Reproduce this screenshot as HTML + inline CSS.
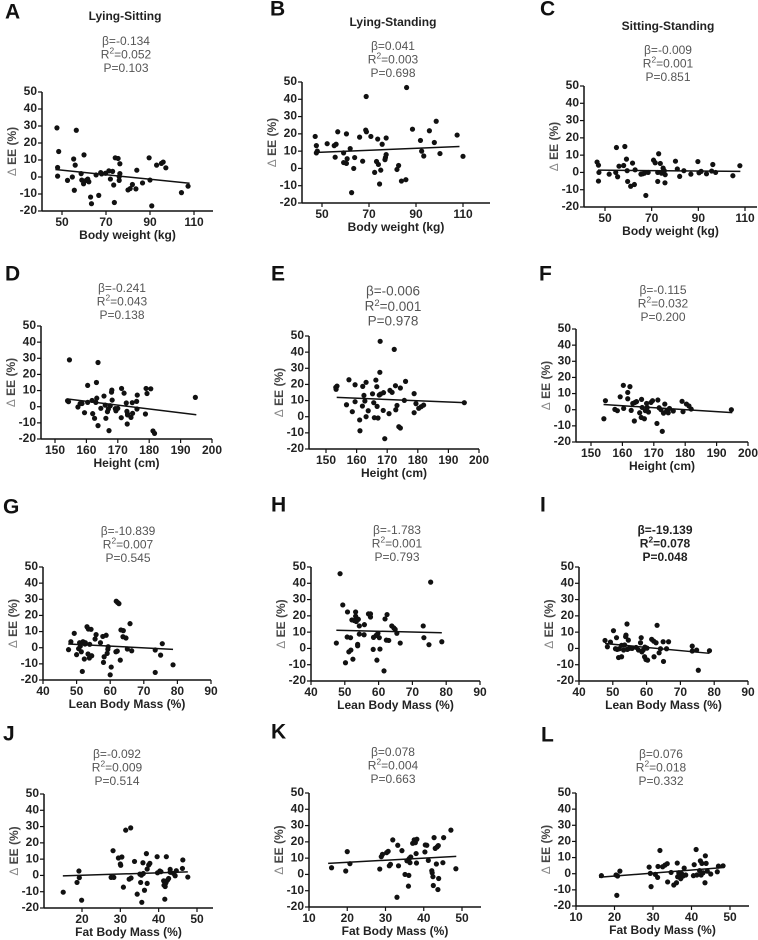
<!DOCTYPE html>
<html><head><meta charset="utf-8"><style>
body{margin:0;background:#fff;}
svg{display:block;font-family:"Liberation Sans",Arial,sans-serif;}
</style></head><body>
<svg id="fig" width="758" height="940" viewBox="0 0 758 940"></svg>
<script>
// ---- data (x values, delta EE values) ----
const aX=[47.7,56.5,48.5,48,48,55.3,56,60,52.5,54.7,55.6,58.7,59,59.8,61,61.7,62.2,63,63.4,65.5,66.7,67.6,68,69.8,71.3,72,73,73.5,73.8,74.2,75.5,76,76,76.3,76.3,80,81,82,84,83.6,86.6,89.6,90,90.8,93,95.2,96,97.2,104.3,107.3];
const aY=[28.9,27.5,15,5.6,0.5,10.6,7,13,-2,0,-7.8,2,-1.8,-4,-2,-1.2,-2.8,-11.8,-15.7,1.2,-10.8,2.6,1.8,2.2,3.6,-1.2,3.3,-4.7,-15,11.3,10.9,0.2,-2,7.8,2,-7.6,-6.8,-4.4,4,-7,-3.5,11.3,-1.8,-17,7,8,8.8,5.4,-9.2,-5.4];
const bX=[47.1,47.6,47.6,48,52.2,55.2,56,55.6,56.7,59.2,60.4,59.2,60.4,60.7,62,63.5,63.9,62.6,66,67.3,68.6,68.9,68.8,70.8,72.4,73.2,73.7,74,74.5,75,75.6,77.3,77,76.8,77.3,81.9,82.6,83.8,85.7,86,88.5,91.9,92.4,93.3,95.7,97.8,98.6,100.2,107.5,110];
const bY=[18.5,13.2,9,10,14.3,13.2,14,6.5,21.2,9,20,3.4,2.9,5.6,11.5,0,6.3,-14,18.1,4.2,22.2,21.2,41.6,18.5,-2.3,4,17,2.3,-9,-1,14,17.6,6.3,5.1,8,-0.6,1.7,-7.3,-6.5,46.8,22.7,16.2,10,7.2,21.8,15,27.3,8.6,19.3,7];
const cX=[46.6,47.2,47.4,47.2,51.8,54.6,54.9,55.4,56,58.5,58,59.2,59.5,59.7,61,61.8,62.6,62.9,65.4,66.1,66.9,67.5,68.5,70.8,71.5,72.6,72.6,73,73.7,74.2,74.9,75.4,75.7,75.8,80.2,81,82,83.8,86.8,89.8,90.3,91.2,93.5,95.7,96.2,97.4,104.8,107.8];
const cY=[6,4.2,0,-5,-1,0,14.4,-2.5,3.6,15,4,7.7,1,-5.2,-8,5.4,-7,1.5,-1,-0.8,-0.4,-13.3,0,7.1,5.6,0,-5.2,10.8,5.2,-0.4,2.5,1,-6,-1.3,6.5,2,-2.3,1,-1,6.3,-0.2,0.6,-0.8,0.8,4.6,0,-1.9,3.9];
const dX=[154.6,154,154.3,157.3,158,158.6,159.4,160.4,160.4,161.8,162,162.6,163,163.2,163.3,163.7,163.7,164.6,165.6,166,166.2,166.7,167,167.2,167.6,168,168.1,168.2,169.2,169.4,170,171.1,171.2,172,172.7,172.9,173.1,173.1,173,174.2,174.7,174.6,176,176.2,176.1,178.8,179,179.3,180.5,181.2,181.7,194.7];
const dY=[29,3.7,3.1,-0.2,1.9,2,-3.7,13.2,2.7,3.9,-4.3,-7.2,2.7,15,5.3,27.4,-11.7,-1,6.6,1,-7.2,-3.1,-1.4,-14.8,0.6,9,10.3,4.1,-1.2,-2.5,-1,-6.8,11.3,8.4,2.3,-2.9,-4.5,-5.1,-10.7,-6.6,-4.1,2.5,3.3,7.2,-1.4,-4.5,11.3,8.2,11.1,-15,-16.5,5.8];
const eX=[153.2,153.6,153.3,156.7,157.5,158.6,159.5,159.5,161,161.1,161.9,162,162.4,162.7,163.1,163.1,163.8,165.2,165.6,165.8,166.3,166.6,166.7,167,167.6,167.7,167.4,167.8,168.7,168.8,169.2,170.6,170.9,171.6,172.3,172.7,172.8,173.2,173.8,174.3,174.3,175.6,176,178.8,178.8,179.4,180.3,181.1,181.9,195.2];
const eY=[18.2,19,17,7.4,22.9,3.1,19.8,9.3,-2,-8.7,6.6,18.8,13.2,9.7,21.3,0,3.7,14.2,8.7,-0.6,22.7,18.6,6.4,-0.8,27.5,46.7,13.4,14,3.9,14.9,-13.6,1.9,16.3,15.1,41.7,19.2,4.3,7,-6.2,-7,17.8,10.1,21.9,14.3,2.5,8.1,5.2,6.2,7.2,8.7];
const fX=[154.1,154.6,157.6,158.4,159.3,160.3,160.4,161.7,162.4,161.7,162.8,163.3,163.8,164,164.5,165.5,166,166.1,166.3,167,167.3,167.7,167.9,168.3,169.1,169.6,171,171.3,171.7,172.3,172.7,173.1,173.5,174.1,174.6,175,176.2,179,179.3,180.4,181.2,181.9,194.7];
const fY=[-5.6,5.6,0.2,-0.6,8,15.1,0.8,10.7,14.3,6.8,-0.4,3.9,-7,4.5,5,-1.9,-4.8,6.4,1.4,-5.6,-0.6,3.9,1.4,-1.4,4.5,5.6,-8.5,6,1.2,0,-13.4,-2.1,3.5,-0.6,-1.9,0.8,-0.8,5.2,-1.2,3.5,2.3,0.4,0];
const gX=[47.6,48.3,49.3,50,50.6,50.9,51.1,51.4,51.7,51.9,52.3,52.5,52.6,53.1,53.4,53.5,53.8,53.9,54.3,54.5,55.5,55.8,57.1,57.8,58,58.2,58.8,59.1,59.3,59.4,60,60.3,61.7,61.8,62.2,62.6,62.1,63,63.2,63.9,63.8,64.7,65.1,65.9,66.4,73.4,73.4,75,75.5,78.7];
const gY=[-1.2,3.7,8.9,-4.3,-0.6,3.1,1,-2.5,-14.7,3.7,-7,2.3,3.1,13,-3.9,11.6,-6.4,2.1,11.4,-5,5.4,8.1,3.1,7,-9.1,-5.6,7.7,-3.5,-1,0.6,-16.8,-12,-2.5,28.8,28,27.3,-2.1,-7.7,11,10.6,6.8,6,-0.8,14.9,-1.9,-1.4,-15.3,-4.6,2.5,-10.6];
const hX=[47.5,48.6,49.4,50.8,50.7,50.2,51.2,51.7,51.8,52.1,52.4,52.8,53.2,53.2,53.4,53.6,54,53.8,53.8,54.3,54.3,55.8,55.7,57,57.6,57.6,58.4,58.5,59.3,59.5,59.8,60.2,60.4,61.6,61.9,62.5,62.3,63,63.9,64.5,64.9,65.4,66.4,73.2,73.4,74.9,75.4,78.7];
const hY=[3.3,45.9,26.7,22.4,7,-8.8,-2.1,6.6,-1,17.5,-6.6,17.1,22.4,19.8,16.5,18.1,17.9,2.5,1.6,13.8,8.8,14.6,8.4,21.2,19.3,21.2,-0.6,6.8,8,-7.2,9.3,6.6,-0.4,-13.8,18.1,20.8,5.1,4.9,13.8,12.6,11.7,9.3,3.3,13.8,6.6,2.3,40.7,4.1];
const iX=[47.7,48.4,49.3,50.2,50.8,51.1,51.3,51.7,51.9,52.6,52.6,53.2,53.5,53.8,53.9,54.2,54.3,54.6,54.9,55.7,56.9,57.6,58.2,58.4,58.6,59,59.5,59.4,59.8,60.3,60.1,61.5,62.1,62.2,62.8,63.1,63.7,64.1,64.9,65,65.9,66.5,73.5,73.5,74.8,75.3,78.6];
const iY=[4.9,1,3.9,10.9,-0.2,6.6,-0.6,-5.6,-0.2,-5.1,1.9,-1,2.1,7.2,8.2,15,-0.6,5.1,0,0,0.6,-1,3.5,6.6,-2.1,-1,0.8,-5.1,-6.8,-7.2,0.2,5.6,4.5,-5.1,3.5,14.2,-2.7,-0.2,4.1,-8,-0.2,4.1,1.4,-1.6,-1,-13.4,-1.4];
const jX=[15.1,18.7,19.2,19.3,19.9,27.6,28.1,28.3,29.5,30.1,30,30.4,30.8,31.4,32.3,32.7,32.8,33.7,34.4,35.1,35.3,35.5,35.6,35.9,36,36.3,36.8,37,37,37.4,37.7,39.6,39.7,40.3,40.6,41.3,41.4,41.6,41.7,41.9,42,42.3,42.6,43,43,43.1,43.9,44.3,44.6,46.3,46.2,47.6];
const jY=[-10.3,-4.3,2.7,-1.4,-15.2,-1.2,15.2,-1.2,10.7,6.2,7,11.3,-7.2,27.8,-2.3,29.2,-1.6,8.6,-11.5,0.8,-4.3,0.2,-16.5,7.8,1.2,-9.1,13.4,-4.9,3.9,6.4,7.4,11.5,1.6,2.7,2.3,-3.3,-6,-14.6,-6.8,-4.5,11.5,-2.9,-1.9,3.7,2.1,1.9,1.2,-0.2,2.9,9.5,4.3,-1];
const kX=[15.9,19.6,20,20.7,28.5,28.9,29.2,30.3,30.7,31,31.3,31.9,33.2,33.4,34.3,35.1,36.1,36,35.6,36.2,36.6,36.4,33,37.1,37.5,37.8,38,38.1,38.2,40.4,40.8,40.3,41.2,42.1,42.2,42.4,42.5,42.7,43,43.3,43.5,43.8,43.7,43.9,45.2,45,47.1,48.4];
const kY=[4.1,2.1,14,6.6,3.3,10.9,12.3,13.4,14.2,5.3,6.2,21.2,17.9,5.3,14.6,0,-0.6,-7.2,8.4,9.7,10.7,7.2,-14,19.1,21.2,19.5,12.8,7,21.6,18.1,17.9,13.8,8.6,2.3,1,-1.4,-6.8,22.6,16,6.4,16.9,17.7,-9.3,-2.5,22.6,7.2,27.2,3.5];
const lX=[16.6,20.4,20.8,20.6,21.4,29,29.3,29.5,30.6,31.2,31.3,31.8,32.5,33.1,33.7,33.8,34.7,35.4,36.1,36.3,36.4,36.7,36.9,37.2,37.5,37.8,38.1,38.5,40.5,40.7,41.2,41.4,42.1,42.3,42.5,42.7,43,43.5,43.6,43.8,44.1,45,46.7,47,48.2];
const lY=[-1.2,-0.8,-1.4,-13.4,1.6,4.1,0.2,-8,-0.4,-2.3,4.5,14.4,4.3,5.3,6.2,-5.1,0.8,-7,-5.6,6.6,-1.9,0.6,-1,-3.1,-0.2,-1.4,3.5,-0.8,-1.2,5.6,15,-0.8,1.9,8,-0.8,6.4,0.6,-5.6,11.1,6.4,1.6,-0.2,1.2,4.7,4.9];
// regression lines: [x start, x end, y start, y end]
const aFit=[47,108,4.4,-3.7], bFit=[47,108.5,9.2,12.7], cFit=[47,108,1.3,0.6];
const dFit=[154,195,4.8,-5], eFit=[153.5,195,12,8.7], fFit=[154,195,3.2,-1.8];
const gFit=[47.5,78.7,2.3,-1], hFit=[47.5,78.7,11.2,9.6], iFit=[47.7,78.6,3,-3];
const jFit=[15,47.6,-0.3,2.2], kFit=[15,48.5,6.8,11.1], lFit=[16,48,-2.2,3.8];
const yTicks=[-20,-10,0,10,20,30,40,50];
const xTicksBW=[50,70,90,110], xTicksH=[150,160,170,180,190,200], xTicksL=[40,50,60,70,80,90], xTicksF1=[20,30,40,50], xTicksF2=[10,20,30,40,50];
const stats={A:["-0.134","0.052","0.103"],B:["0.041","0.003","0.698"],C:["-0.009","0.001","0.851"],D:["-0.241","0.043","0.138"],E:["-0.006","0.001","0.978"],F:["-0.115","0.032","0.200"],G:["-10.839","0.007","0.545"],H:["-1.783","0.001","0.793"],I:["-19.139","0.078","0.048"],J:["-0.092","0.009","0.514"],K:["0.078","0.004","0.663"],L:["0.076","0.018","0.332"]};

// ---- layout ----
const panels=[
 {id:"A",xs:aX,ys:aY,fit:aFit,ticks:xTicksBW,xt:"Body weight (kg)",ax:42,x1v:50,x1p:62,x2v:110,x2p:194,end:213,y50:92,ym20:211,lx:5,ly:13,sc:126,sy:42,title:"Lying-Sitting",tx:125,ty:17},
 {id:"B",xs:bX,ys:bY,fit:bFit,ticks:xTicksBW,xt:"Body weight (kg)",ax:302,x1v:50,x1p:322,x2v:110,x2p:463,end:490,y50:82,ym20:203,lx:270,ly:10,sc:393,sy:47,title:"Lying-Standing",tx:393,ty:23},
 {id:"C",xs:cX,ys:cY,fit:cFit,ticks:xTicksBW,xt:"Body weight (kg)",ax:584,x1v:50,x1p:605,x2v:110,x2p:745,end:757,y50:86,ym20:207,lx:540,ly:10,sc:668,sy:51,title:"Sitting-Standing",tx:668,ty:27},
 {id:"D",xs:dX,ys:dY,fit:dFit,ticks:xTicksH,xt:"Height (cm)",ax:41,x1v:150,x1p:55,x2v:200,x2p:212,end:212,y50:326,ym20:439,lx:5,ly:275,sc:122,sy:289},
 {id:"E",xs:eX,ys:eY,fit:eFit,ticks:xTicksH,xt:"Height (cm)",ax:309,x1v:150,x1p:326,x2v:200,x2p:479,end:479,y50:336,ym20:449,lx:271,ly:275,sc:393,sy:292,big:true},
 {id:"F",xs:fX,ys:fY,fit:fFit,ticks:xTicksH,xt:"Height (cm)",ax:576,x1v:150,x1p:591,x2v:200,x2p:748,end:748,y50:329,ym20:442,lx:539,ly:275,sc:663,sy:291},
 {id:"G",xs:gX,ys:gY,fit:gFit,ticks:xTicksL,xt:"Lean Body Mass (%)",ax:43,x1v:40,x1p:43,x2v:90,x2p:211,end:211,y50:567,ym20:680,lx:3,ly:508,sc:128,sy:532},
 {id:"H",xs:hX,ys:hY,fit:hFit,ticks:xTicksL,xt:"Lean Body Mass (%)",ax:311,x1v:40,x1p:311,x2v:90,x2p:480,end:480,y50:567,ym20:681,lx:271,ly:506,sc:397,sy:531},
 {id:"I",xs:iX,ys:iY,fit:iFit,ticks:xTicksL,xt:"Lean Body Mass (%)",ax:579,x1v:40,x1p:579,x2v:90,x2p:748,end:748,y50:567,ym20:681,lx:540,ly:506,sc:665,sy:531,bold:true},
 {id:"J",xs:jX,ys:jY,fit:jFit,ticks:xTicksF1,xt:"Fat Body Mass (%)",ax:44,x1v:20,x1p:82,x2v:50,x2p:197,end:213,y50:794,ym20:908,lx:3,ly:735,sc:117,sy:755},
 {id:"K",xs:kX,ys:kY,fit:kFit,ticks:xTicksF2,xt:"Fat Body Mass (%)",ax:309,x1v:10,x1p:309,x2v:50,x2p:462,end:481,y50:793,ym20:907,lx:271,ly:733,sc:393,sy:753},
 {id:"L",xs:lX,ys:lY,fit:lFit,ticks:xTicksF2,xt:"Fat Body Mass (%)",ax:576,x1v:10,x1p:576,x2v:50,x2p:730,end:749,y50:793,ym20:906,lx:541,ly:736,sc:661,sy:755}
];
const NS="http://www.w3.org/2000/svg";
const svg=document.getElementById("fig");
function mk(tag,attrs,parent,text){const e=document.createElementNS(NS,tag);for(const k in attrs)e.setAttribute(k,attrs[k]);if(text!==undefined)e.textContent=text;parent.appendChild(e);return e;}
panels.forEach(p=>{
  const g=mk("g",{},svg);
  
  
  const sx=v=>p.x1p+(v-p.x1v)*(p.x2p-p.x1p)/(p.x2v-p.x1v);
  const sy=v=>p.y50+(50-v)*(p.ym20-p.y50)/70;
  const lt=mk("text",{x:p.lx,y:p.ly,"font-size":"21","font-weight":"bold","dominant-baseline":"middle",fill:"#111"},g,p.id);
  
  
  if(p.title){const t=mk("text",{x:p.tx,y:p.ty,"font-size":"12","font-weight":"bold","text-anchor":"middle","dominant-baseline":"middle",fill:"#222"},g,p.title);
    
    }
  const s=stats[p.id];const fs=p.big?13.5:12;const lh=p.big?15:13.5;
  const st=mk("g",{"font-size":fs,"font-weight":p.bold?"bold":"normal",fill:p.bold?"#222":"#555","text-anchor":"middle"},g);
  
  
  mk("text",{x:p.sc,y:p.sy,"dominant-baseline":"middle"},st,"β="+s[0]);
  const r2=mk("text",{x:p.sc,y:p.sy+lh,"dominant-baseline":"middle"},st);
  r2.innerHTML='R<tspan dy="-4" font-size="'+(fs*0.7)+'">2</tspan><tspan dy="4">='+s[1]+'</tspan>';
  mk("text",{x:p.sc,y:p.sy+2*lh,"dominant-baseline":"middle"},st,"P="+s[2]);
  const axes=mk("g",{stroke:"#111","stroke-width":"1.5",fill:"none"},g);
  
  
  mk("line",{x1:p.ax,y1:p.y50,x2:p.ax,y2:p.ym20},axes);
  mk("line",{x1:p.ax,y1:p.ym20,x2:p.end,y2:p.ym20},axes);
  const yl=mk("g",{"font-size":"12","font-weight":"bold","text-anchor":"end",fill:"#222"},g);
  
  
  yTicks.forEach(v=>{mk("line",{x1:p.ax-4,x2:p.ax,y1:sy(v),y2:sy(v),stroke:"#111","stroke-width":"1.2"},axes);
    mk("text",{x:p.ax-5,y:sy(v),"dominant-baseline":"middle"},yl,String(v));});
  const xl=mk("g",{"font-size":"12","font-weight":"bold","text-anchor":"middle",fill:"#222"},g);
  
  
  p.ticks.forEach(v=>{mk("line",{x1:sx(v),x2:sx(v),y1:p.ym20,y2:p.ym20+4,stroke:"#111","stroke-width":"1.2"},axes);
    mk("text",{x:sx(v),y:p.ym20+12,"dominant-baseline":"middle"},xl,String(v));});
  const xt=mk("text",{x:(p.ax+p.end)/2,y:p.ym20+25,"font-size":"12","font-weight":"bold","text-anchor":"middle","dominant-baseline":"middle",fill:"#222"},g,p.xt);
  
  
  const yc=sy(15),yx=p.ax-29;
  const yt=mk("text",{x:yx,y:yc,transform:"rotate(-90 "+yx+" "+yc+")","font-size":"12","text-anchor":"middle","dominant-baseline":"middle",fill:"#444"},g);
  yt.innerHTML='<tspan font-weight="normal" fill="#888">Δ</tspan><tspan font-weight="bold"> EE (%)</tspan>';
  
  
  const pts=mk("g",{fill:"#111"},g);
  
  
  p.xs.forEach((x,i)=>{const c=mk("circle",{cx:sx(x),cy:sy(p.ys[i]),r:2.6},pts);
    
    });
  const f=p.fit;
  const rl=mk("line",{x1:sx(f[0]),y1:sy(f[2]),x2:sx(f[1]),y2:sy(f[3]),stroke:"#111","stroke-width":"1.5"},g);
  
  
});
</script>
</body></html>
